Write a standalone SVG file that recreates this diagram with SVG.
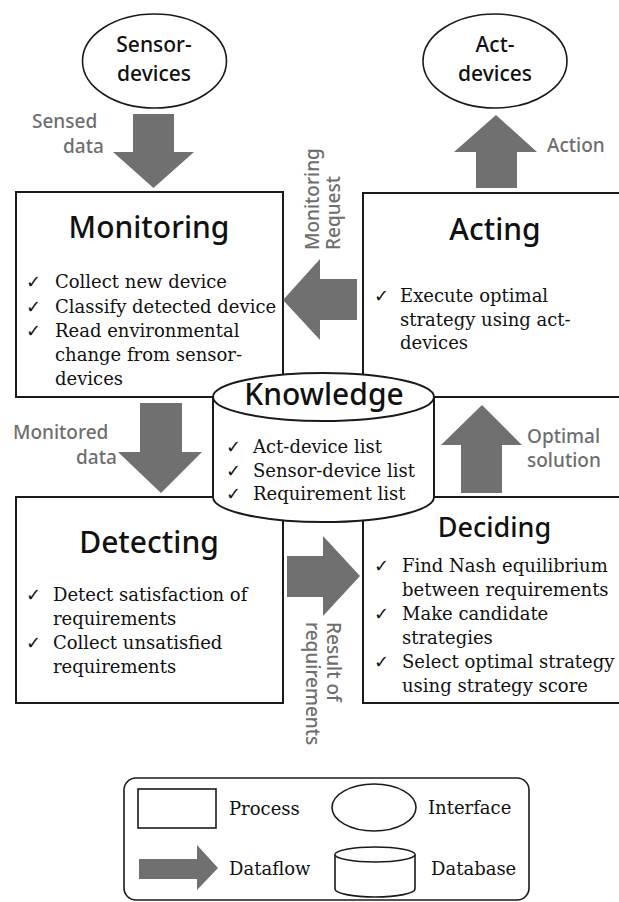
<svg xmlns="http://www.w3.org/2000/svg" width="619" height="902" viewBox="0 0 619 902">
  <style>
    .box { fill: #fff; stroke: #1a1a1a; stroke-width: 2; }
    .thin { fill: #fff; stroke: #1a1a1a; stroke-width: 1.6; }
    .flow { fill: #707070; stroke: none; }
    .title { font-family: "Noto Sans", "Open Sans", sans-serif; font-weight: 500; fill: #111; text-anchor: middle; }
    .iface { font-family: "Noto Sans", "Open Sans", sans-serif; font-weight: 500; font-size: 21px; fill: #111; text-anchor: middle; }
    .lbl { font-family: "Noto Sans", "Open Sans", sans-serif; font-weight: 500; font-size: 19px; fill: #6e6e6e; }
    .item { font-family: "DejaVu Serif", "Liberation Serif", serif; font-size: 18px; fill: #111; }
    .chk { font-family: "DejaVu Sans", sans-serif; font-size: 18px; fill: #111; }
  </style>

  <!-- interfaces -->
  <g id="sensor-devices">
    <ellipse class="thin" cx="154.5" cy="61" rx="72" ry="47"/>
    <text class="iface" x="154" y="52">Sensor-</text>
    <text class="iface" x="154" y="81">devices</text>
  </g>
  <g id="act-devices">
    <ellipse class="thin" cx="495" cy="61" rx="72" ry="47"/>
    <text class="iface" x="495" y="52">Act-</text>
    <text class="iface" x="495" y="81">devices</text>
  </g>

  <!-- processes -->
  <g id="monitoring">
    <rect class="box" x="16" y="192" width="267" height="205"/>
    <text class="title" x="149" y="238" font-size="30">Monitoring</text>
    <text class="chk" x="26" y="288">✓</text>
    <text class="item" x="55" y="288">Collect new device</text>
    <text class="chk" x="26" y="313">✓</text>
    <text class="item" x="55" y="313">Classify detected device</text>
    <text class="chk" x="26" y="337">✓</text>
    <text class="item" x="55" y="337">Read environmental</text>
    <text class="item" x="55" y="361">change from sensor-</text>
    <text class="item" x="55" y="385">devices</text>
  </g>
  <g id="acting">
    <rect class="box" x="363" y="193" width="262" height="204"/>
    <text class="title" x="495" y="240" font-size="30">Acting</text>
    <text class="chk" x="374" y="302">✓</text>
    <text class="item" x="400" y="302">Execute optimal</text>
    <text class="item" x="400" y="326">strategy using act-</text>
    <text class="item" x="400" y="349">devices</text>
  </g>
  <g id="detecting">
    <rect class="box" x="16" y="497" width="267" height="206"/>
    <text class="title" x="149" y="553" font-size="30">Detecting</text>
    <text class="chk" x="26" y="601">✓</text>
    <text class="item" x="53" y="601">Detect satisfaction of</text>
    <text class="item" x="53" y="625">requirements</text>
    <text class="chk" x="26" y="649">✓</text>
    <text class="item" x="53" y="649">Collect unsatisfied</text>
    <text class="item" x="53" y="673">requirements</text>
  </g>
  <g id="deciding">
    <rect class="box" x="363" y="497" width="262" height="206"/>
    <text class="title" x="494.5" y="537" font-size="27">Deciding</text>
    <text class="chk" x="374" y="572">✓</text>
    <text class="item" x="402" y="572">Find Nash equilibrium</text>
    <text class="item" x="402" y="596">between requirements</text>
    <text class="chk" x="374" y="620">✓</text>
    <text class="item" x="402" y="620">Make candidate</text>
    <text class="item" x="402" y="644">strategies</text>
    <text class="chk" x="374" y="668">✓</text>
    <text class="item" x="402" y="668">Select optimal strategy</text>
    <text class="item" x="402" y="692">using strategy score</text>
  </g>

  <!-- database -->
  <g id="knowledge">
    <path class="box" d="M213,397 A110.5,24 0 0 1 434,397 L434,497 A110.5,25 0 0 1 213,497 Z"/>
    <path class="box" fill="none" d="M213,397 A110.5,24 0 0 0 434,397"/>
    <text class="title" x="324" y="405" font-size="30">Knowledge</text>
    <text class="chk" x="226" y="453">✓</text>
    <text class="item" x="253" y="453">Act-device list</text>
    <text class="chk" x="226" y="477">✓</text>
    <text class="item" x="253" y="477">Sensor-device list</text>
    <text class="chk" x="226" y="500">✓</text>
    <text class="item" x="253" y="500">Requirement list</text>
  </g>

  <!-- dataflows -->
  <g id="connectors">
    <polygon class="flow" points="133,114 174,114 174,152 194,152 153.5,188 113,152 133,152"/>
    <text class="lbl" x="32" y="128">Sensed</text>
    <text class="lbl" x="63" y="153">data</text>

    <polygon class="flow" points="357,279 320,279 320,259 283,300 320,340 320,320 357,320"/>
    <text class="lbl" transform="translate(319,250) rotate(-90)">Monitoring</text>
    <text class="lbl" transform="translate(340,250) rotate(-90)">Request</text>

    <polygon class="flow" points="476,188 476,152 454,152 496,115 537,152 517,152 517,188"/>
    <text class="lbl" x="547" y="152">Action</text>

    <polygon class="flow" points="140,403 182,403 182,452 202,452 161,493 118,452 140,452"/>
    <text class="lbl" x="13" y="439">Monitored</text>
    <text class="lbl" x="76" y="464">data</text>

    <polygon class="flow" points="461,493 461,445 441,445 482,405 522,445 502,445 502,493"/>
    <text class="lbl" x="527" y="443">Optimal</text>
    <text class="lbl" x="527" y="467">solution</text>

    <polygon class="flow" points="287,556 323,556 323,536 360,576 323,616 323,597 287,597"/>
    <text class="lbl" transform="translate(327,622) rotate(90)">Result of</text>
    <text class="lbl" transform="translate(306,622) rotate(90)">requirements</text>
  </g>

  <!-- legend -->
  <g id="legend">
    <rect class="thin" x="124" y="778" width="405" height="122" rx="12"/>
    <rect class="thin" x="138" y="789" width="78" height="39"/>
    <text class="item" x="229" y="815">Process</text>
    <ellipse class="thin" cx="374" cy="807.5" rx="42" ry="23.5"/>
    <text class="item" x="428" y="814">Interface</text>
    <polygon class="flow" points="139,859 197,859 197,845 218,868 197,890 197,879 139,879"/>
    <text class="item" x="229" y="875">Dataflow</text>
    <path class="thin" d="M335,854.5 A40,7.5 0 0 1 415,854.5 L415,889 A40,8 0 0 1 335,889 Z"/>
    <path class="thin" fill="none" d="M335,854.5 A40,7.5 0 0 0 415,854.5"/>
    <text class="item" x="431" y="875">Database</text>
  </g>
</svg>
